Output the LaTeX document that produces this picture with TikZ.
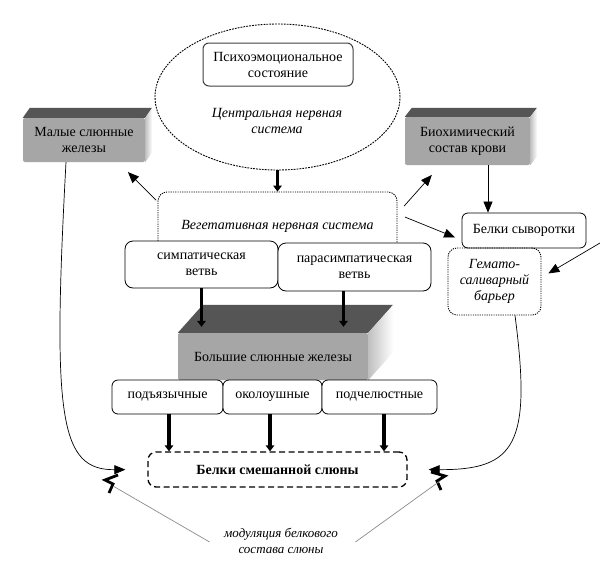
\documentclass[tikz,border=0pt]{standalone}
\usepackage{fontspec}
\setmainfont{Liberation Serif}
\usetikzlibrary{arrows.meta,calc,shapes.geometric}
\definecolor{blockfront}{HTML}{A6A6A6}
\definecolor{blocktop}{HTML}{555555}
\definecolor{modline}{HTML}{8C8C8C}
\newcommand\slfont{\fontsize{14}{16}\selectfont}
\tikzset{
  sl box/.style={draw,line width=.8pt,rounded corners=6pt,fill=white,align=center},
  sl dotted/.style={draw,line width=.9pt,rounded corners=9pt,dash pattern=on 1.2pt off 1.1pt,align=center,font=\slfont\itshape},
  sl block/.style={fill=blockfront,rounded corners=2pt,align=center},
  sl dashed/.style={draw,line width=1.3pt,rounded corners=8pt,dash pattern=on 6pt off 3.5pt,font=\slfont\bfseries},
  sl thick/.style={line width=3.2pt,-{Triangle[length=6pt,width=8.5pt]}},
  sl thin/.style={line width=.7pt,-{Triangle[length=11pt,width=9pt]}},
  sl bolt/.style={line width=2.8pt,line join=miter},
  sl mod/.style={modline,line width=.7pt}
}

\begin{document}
\begin{tikzpicture}[x=1pt,y=-1pt,font=\slfont]
  \path[use as bounding box,fill=white] (0,0) rectangle (600,571);
  % central nervous system
  \node[ellipse,draw,line width=.9pt,dash pattern=on 1.8pt off 1.1pt,minimum width=245pt,minimum height=146pt] (cns) at (277.5,97) {};
  \node[sl box,draw=black!75,line width=1pt,minimum width=150pt,minimum height=43pt] (psy) at (278,64.5) {Психоэмоциональное\\состояние};
  \node[font=\slfont\itshape,align=center] (cnstext) at (277,121) {Центральная нервная\\система};
  % 3d blocks
  \node[sl block,minimum width=122pt,minimum height=44pt] (small) at (84,140) {Малые слюнные\\железы};
  \node[sl block,minimum width=125pt,minimum height=48pt] (blood) at (467.5,141) {Биохимический\\состав крови};
  \node[sl block,minimum width=190pt,minimum height=47pt] (big) at (273,356.5) {Большие слюнные железы};
  \foreach \n/\dx/\dy in {small/7/10,blood/7/9,big/25/28}{
    \fill[blocktop] (\n.north west) -- ++(\dx,-\dy) -- ($(\n.north east)+(\dx,-\dy)$) -- (\n.north east) -- cycle;
    \shade[left color=black!25,right color=white] (\n.north east) -- ++(\dx,-\dy) -- ($(\n.south east)+(\dx,-\dy)$) -- (\n.south east) -- cycle;
  }
  % vegetative system
  \node[sl dotted,minimum width=239pt,minimum height=68pt] (veg) at (277.5,226) {Вегетативная нервная система};
  \node[sl box,rounded corners=8pt,minimum width=153pt,minimum height=47pt] (symp) at (201.5,264.5) {симпатическая\\ветвь};
  \node[sl box,rounded corners=8pt,minimum width=153pt,minimum height=48pt] (para) at (354.5,267) {парасимпатическая\\ветвь};
  % glands and saliva
  \node[sl box,minimum width=111pt,minimum height=34pt] (sub) at (167.5,397) {подъязычные};
  \node[sl box,minimum width=99pt,minimum height=34pt] (paro) at (272.5,397) {околоушные};
  \node[sl box,minimum width=115pt,minimum height=34pt] (mand) at (379.5,397) {подчелюстные};
  \node[sl dashed,minimum width=259pt,minimum height=35pt] (mixed) at (277.5,469.5) {Белки смешанной слюны};
  % blood side
  \node[sl box,minimum width=124pt,minimum height=35pt] (serum) at (524,230.5) {Белки сыворотки};
  \node[sl dotted,minimum width=93pt,minimum height=67pt] (barrier) at (494.5,281.5) {Гемато-\\саливарный\\барьер};
  \node[font=\fontsize{13}{16}\selectfont\itshape,align=center] (mod) at (281,541) {модуляция белкового\\состава слюны};
  \coordinate (edge) at (600,243);
  \coordinate (boltL) at (113,486);
  \coordinate (boltR) at (440,481);

  \draw[sl thick] (cns.south) -- (veg.north);
  \draw[sl thick,shorten >=6pt] (symp.south) -- (symp.south |- big.north);
  \draw[sl thick,shorten >=6pt] ($(para.south)+(-11,0)$) -- ($(para.south |- big.north)+(-11,0)$);
  \foreach \n/\dx in {sub/1.5,paro/-2.5,mand/4.5}
    \draw[sl thick] ($(\n.south)+(\dx,0)$) -- ($(\n.south |- mixed.north)+(\dx,0)$);

  \draw[sl thin,shorten <=2pt,shorten >=14pt] ($(veg.north west)+(0,10)$) -- ($(small.south)+(34,0)$);
  \draw[sl thin,shorten <=10pt,shorten >=13pt] ($(veg.north east)+(0,22)$) -- ($(blood.south)+(-27,0)$);
  \draw[sl thin,shorten <=8pt,shorten >=7pt] ($(veg.east)+(0,-12)$) -- ($(serum.west)+(0,9.5)$);
  \draw[sl thin] ($(blood.south)+(20.5,0)$) -- ($(blood.south |- serum.north)+(20.5,0)$);
  \draw[sl thin,shorten >=8pt] (edge) -- ($(barrier.east)+(0,-4)$);
  \draw[sl thin,shorten >=22pt] ($(small.south)+(-18,0)$) .. controls (52,420) and (60,470) .. (mixed.west);
  \draw[sl thin,shorten >=21pt] ($(barrier.south)+(20.5,0)$) .. controls (532,445) and (515,470) .. (mixed.east);

  % modulation
  \draw[sl bolt] (118,475) -- (105,480) -- (113,484) -- (109,493);
  \draw[sl bolt] (431,472) -- (445,476) -- (437,481) -- (441,490);
  \draw[sl mod] ($(mod.west)+(-11,1)$) -- (boltL);
  \draw[sl mod] ($(mod.east)+(14,1)$) -- (boltR);
\end{tikzpicture}
\end{document}
